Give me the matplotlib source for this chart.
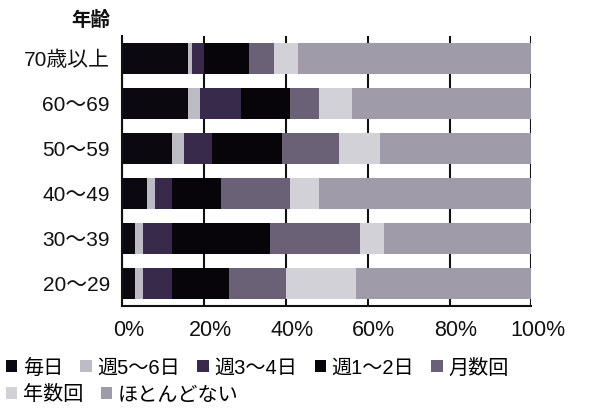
import numpy as np
import matplotlib
matplotlib.use('Agg')
import matplotlib.pyplot as plt
from matplotlib.patches import Patch
from matplotlib.transforms import ScaledTranslation

plt.rcParams['font.family'] = ['Liberation Sans', 'Noto Sans CJK JP', 'DejaVu Sans']

#Age groups, top to bottom
ages = ['70歳以上', '60～69', '50～59', '40～49', '30～39', '20～29']

#Share of each frequency (%)
freq_labels = ['毎日', '週5～6日', '週3～4日', '週1～2日', '月数回', '年数回', 'ほとんどない']
mainichi   = [16, 16, 12, 6, 3, 3]
shu56      = [1, 3, 3, 2, 2, 2]
shu34      = [3, 10, 7, 4, 7, 7]
shu12      = [11, 12, 17, 12, 24, 14]
tsuki      = [6, 7, 14, 17, 22, 14]
nen        = [6, 8, 10, 7, 6, 17]
hotondo    = [57, 44, 37, 52, 36, 43]

xticks = [0, 20, 40, 60, 80, 100]
xticklabels = ['0%', '20%', '40%', '60%', '80%', '100%']

colors = ['#0b0810', '#bdbbc4', '#372a4a', '#070509', '#6b6177', '#d3d1d8', '#a09ba8']

series = [mainichi, shu56, shu34, shu12, tsuki, nen, hotondo]

#%% Plotting
fig = plt.figure(figsize=(6.07, 4.18), dpi=100)
ax = fig.add_axes([0.2018, 0.268, 0.6738, 0.6459])

y = np.arange(len(ages))
left = np.zeros(len(ages))
handles = []
for vals, col, lab in zip(series, colors, freq_labels):
    ax.barh(y, vals, left=left, height=0.67, color=col, edgecolor='none')
    left += np.array(vals)
    handles.append(Patch(facecolor=col, edgecolor='none', label=lab))

ax.set_xlim(0, 100)
ax.set_ylim(len(ages) - 0.5, -0.5)
ax.set_yticks(y)
ax.set_yticklabels(ages, fontsize=15, color='#111111')
ax.set_xticks(xticks)
ax.set_xticklabels(xticklabels, fontsize=15.5, color='#111111')
ax.tick_params(axis='both', length=0)
ax.tick_params(axis='y', pad=9)
ax.tick_params(axis='x', pad=10)
for lbl in ax.get_xticklabels():
    lbl.set_transform(lbl.get_transform() + ScaledTranslation(6/100, 0, fig.dpi_scale_trans))

ax.set_axisbelow(True)
ax.grid(axis='x', color='#111111', linewidth=1.5)
ax.spines['top'].set_visible(False)
ax.spines['right'].set_visible(False)
ax.spines['left'].set_linewidth(1.5)
ax.spines['bottom'].set_linewidth(1.5)
ax.spines['left'].set_color('#111111')
ax.spines['bottom'].set_color('#111111')

fig.text(110/607, 1 - 20/418, '年齢', ha='right', va='center',
         fontsize=14, fontweight='bold', color='#111111')

#Legend in two rows
leg_kw = dict(frameon=False, fontsize=14.5, handlelength=0.55, handleheight=0.55,
              handletextpad=0.3, columnspacing=0.85, borderpad=0, borderaxespad=0)
leg1 = fig.legend(handles=handles[:5], ncol=5, loc='center left',
                  bbox_to_anchor=(6/607, 1 - 368/418), **leg_kw)
leg2 = fig.legend(handles=handles[5:], ncol=2, loc='center left',
                  bbox_to_anchor=(6/607, 1 - 395/418), **leg_kw)

fig.savefig('out.png', dpi=100)
